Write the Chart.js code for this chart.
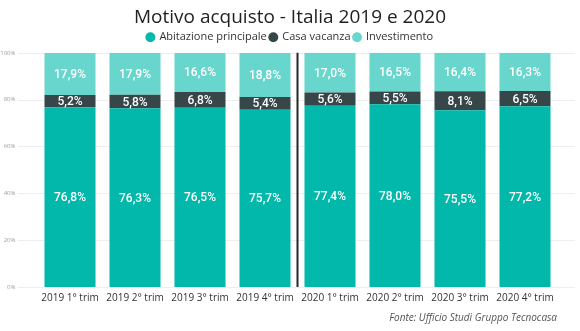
<!DOCTYPE html>
<html>
<head>
<meta charset="utf-8">
<script src="https://cdn.jsdelivr.net/npm/chart.js@4"></script>
<style>
  html, body { margin: 0; padding: 0; background: #fff; }
  #wrap { width: 580px; height: 331px; }
</style>
</head>
<body>
<div id="wrap"><canvas id="acquisti"></canvas></div>
<script>
const trimestri = ['2019 1° trim', '2019 2° trim', '2019 3° trim', '2019 4° trim',
                   '2020 1° trim', '2020 2° trim', '2020 3° trim', '2020 4° trim'];
const abitazione = [76.8, 76.3, 76.5, 75.7, 77.4, 78.0, 75.5, 77.2];
const vacanza = [5.2, 5.8, 6.8, 5.4, 5.6, 5.5, 8.1, 6.5];
const investimento = [17.9, 17.9, 16.6, 18.8, 17.0, 16.5, 16.4, 16.3];
const yTicks = [0, 20, 40, 60, 80, 100];
const fonte = 'Fonte: Ufficio Studi Gruppo Tecnocasa';

const fmt = v => v.toFixed(1).replace('.', ',') + '%';

// gridlines running wider than the plot + year separator + source note
const gridPlugin = {
  id: 'gridLines',
  beforeDatasetsDraw(chart) {
    const ctx = chart.ctx, y = chart.scales.y;
    ctx.save();
    ctx.strokeStyle = '#eeeeee';
    ctx.lineWidth = 1;
    yTicks.forEach(t => {
      const py = Math.round(y.getPixelForValue(t)) + 0.5;
      ctx.beginPath();
      ctx.moveTo(18, py);
      ctx.lineTo(575, py);
      ctx.stroke();
    });
    ctx.restore();
  },
  afterDatasetsDraw(chart) {
    const ctx = chart.ctx, y = chart.scales.y, x = chart.scales.x;
    const sx = (x.getPixelForValue(3) + x.getPixelForValue(4)) / 2;
    ctx.save();
    ctx.strokeStyle = '#252525';
    ctx.lineWidth = 2;
    ctx.beginPath();
    ctx.moveTo(sx, y.getPixelForValue(100));
    ctx.lineTo(sx, y.getPixelForValue(0));
    ctx.stroke();
    ctx.restore();
  },
  afterDraw(chart) {
    const ctx = chart.ctx;
    ctx.save();
    ctx.fillStyle = '#555';
    ctx.font = 'italic 10px "Open Sans"';
    ctx.textAlign = 'right';
    ctx.textBaseline = 'middle';
    ctx.fillText(fonte, 557, 318);
    ctx.restore();
  }
};

// value labels in the middle of each segment
const labelPlugin = {
  id: 'segLabels',
  afterDatasetsDraw(chart) {
    const ctx = chart.ctx;
    ctx.save();
    ctx.fillStyle = '#ffffff';
    ctx.font = '500 12px Roboto';
    ctx.textAlign = 'center';
    ctx.textBaseline = 'middle';
    chart.data.datasets.forEach((ds, i) => {
      chart.getDatasetMeta(i).data.forEach((bar, j) => {
        const mid = (bar.y + bar.base) / 2;
        ctx.fillText(fmt(ds.data[j]), bar.x, mid + 1);
      });
    });
    ctx.restore();
  }
};

new Chart(document.getElementById('acquisti'), {
  type: 'bar',
  data: {
    labels: trimestri,
    datasets: [
      { label: 'Abitazione principale', data: abitazione, backgroundColor: '#01b8aa' },
      { label: 'Casa vacanza', data: vacanza, backgroundColor: '#374649' },
      { label: 'Investimento', data: investimento, backgroundColor: '#68d6cc' }
    ]
  },
  options: {
    responsive: true,
    maintainAspectRatio: false,
    animation: false,
    barPercentage: 0.785,
    categoryPercentage: 1,
    layout: { padding: { left: 0, right: 0, top: 0, bottom: 22 } },
    scales: {
      x: {
        stacked: true,
        grid: { display: false, drawTicks: false },
        border: { display: false },
        ticks: { color: '#333', font: { family: 'Open Sans', size: 10 }, padding: 5, maxRotation: 0, autoSkip: false }
      },
      y: {
        stacked: true,
        min: 0,
        max: 100,
        grid: { display: false, drawTicks: false },
        border: { display: false },
        afterFit: s => { s.width = 37.5; },
        ticks: {
          stepSize: 20,
          padding: 22,
          color: '#a0a0a0',
          font: { family: 'Open Sans', size: 6 },
          callback: v => v + '%'
        }
      },
      // empty axis that only reserves the right margin
      yR: {
        position: 'right',
        display: true,
        grid: { display: false, drawTicks: false },
        border: { display: false },
        ticks: { display: false },
        afterFit: s => { s.width = 22.5; }
      }
    },
    plugins: {
      title: {
        display: true,
        text: 'Motivo acquisto - Italia 2019 e 2020',
        color: '#222',
        font: { family: 'Open Sans', size: 19, weight: 'normal' },
        padding: { top: 6, bottom: 0 }
      },
      legend: {
        display: true,
        labels: {
          usePointStyle: true,
          pointStyle: 'circle',
          boxWidth: 7,
          boxHeight: 7,
          padding: 3,
          color: '#333',
          font: { family: 'Open Sans', size: 11 }
        }
      },
      tooltip: { enabled: false }
    }
  },
  plugins: [gridPlugin, labelPlugin]
});
</script>
</body>
</html>
